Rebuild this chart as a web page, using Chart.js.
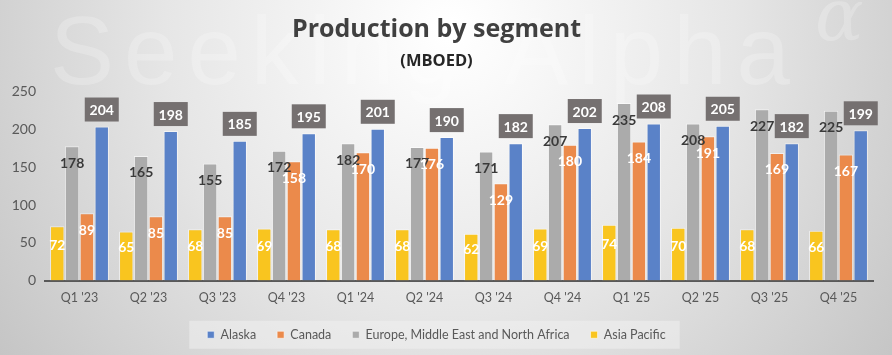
<!DOCTYPE html>
<html>
<head>
<meta charset="utf-8">
<script src="https://cdn.jsdelivr.net/npm/chart.js@4.4.1/dist/chart.umd.min.js"></script>
<style>
  html, body { margin: 0; padding: 0; background: #d0d0d0; }
  #wrap { width: 892px; height: 355px; position: relative; }
</style>
</head>
<body>
<div id="wrap"><canvas id="c" width="892" height="355"></canvas></div>
<script>
const categories = ["Q1 '23","Q2 '23","Q3 '23","Q4 '23","Q1 '24","Q2 '24","Q3 '24","Q4 '24","Q1 '25","Q2 '25","Q3 '25","Q4 '25"];
const asiaPacific = [72, 65, 68, 69, 68, 68, 62, 69, 74, 70, 68, 66];
const emena = [178, 165, 155, 172, 182, 177, 171, 207, 235, 208, 227, 225];
const canada = [89, 85, 85, 158, 170, 176, 129, 180, 184, 191, 169, 167];
const alaska = [204, 198, 185, 195, 201, 190, 182, 202, 208, 205, 182, 199];
const yTicks = [0, 50, 100, 150, 200, 250];

const FONT = "Lato, 'Open Sans', sans-serif";

const bgPlugin = {
  id: 'bg',
  beforeDraw(chart) {
    const ctx = chart.ctx, w = chart.width, h = chart.height;
    ctx.save();
    const g = ctx.createRadialGradient(450, 30, 10, 450, 30, 620);
    g.addColorStop(0, '#ffffff');
    g.addColorStop(0.45, '#e6e6e6');
    g.addColorStop(1, '#bdbdbd');
    ctx.fillStyle = g;
    ctx.fillRect(0, 0, w, h);
    // watermark
    ctx.fillStyle = 'rgba(255,255,255,0.22)';
    ctx.font = "96px 'Liberation Sans', sans-serif";
    ctx.textBaseline = 'alphabetic';
    ctx.textAlign = 'left';
    const wm = 'Seeking Alpha';
    const natural = ctx.measureText(wm).width;
    const target = 740;
    if ('letterSpacing' in ctx) ctx.letterSpacing = ((target - natural) / (wm.length - 1)) + 'px';
    ctx.fillText(wm, 50, 84);
    if ('letterSpacing' in ctx) ctx.letterSpacing = '0px';
    ctx.font = "italic 72px 'DejaVu Serif', serif";
    ctx.fillText('\u03b1', 815, 40);
    // legend box
    const lg = chart.legend;
    if (lg && lg.legendHitBoxes && lg.legendHitBoxes.length) {
      const hb = lg.legendHitBoxes;
      const x0 = Math.min(...hb.map(b => b.left)) - 18;
      const x1 = Math.max(...hb.map(b => b.left + b.width)) + 14;
      const yc = hb[0].top + hb[0].height / 2;
      ctx.fillStyle = 'rgba(240,240,240,0.55)';
      ctx.fillRect(x0, yc - 14, x1 - x0, 28);
    }
    ctx.restore();
  }
};

const labelPlugin = {
  id: 'vals',
  afterDatasetsDraw(chart) {
    const ctx = chart.ctx;
    ctx.save();
    ctx.textAlign = 'center';
    ctx.textBaseline = 'middle';
    chart.data.datasets.forEach((ds, di) => {
      const meta = chart.getDatasetMeta(di);
      if (meta.hidden) return;
      meta.data.forEach((bar, i) => {
        const v = ds.data[i];
        const x = bar.x, top = bar.y, base = bar.base;
        const txt = String(v);
        ctx.font = "bold 14px " + FONT;
        if (ds.kind === 'asia') {
          ctx.fillStyle = '#ffffff';
          ctx.fillText(txt, x, (top + base) / 2 - 8);
        } else if (ds.kind === 'emena') {
          ctx.fillStyle = '#3a3a3a';
          ctx.fillText(txt, x, top + 17);
        } else if (ds.kind === 'canada') {
          ctx.fillStyle = '#ffffff';
          ctx.fillText(txt, x, top + 17);
        } else if (ds.kind === 'alaska') {
          const cy = top - 17;
          ctx.fillStyle = '#757070';
          ctx.fillRect(x - 17, cy - 12, 34, 24);
          ctx.fillStyle = '#ffffff';
          ctx.fillText(txt, x, cy + 1);
        }
      });
    });
    ctx.restore();
  }
};

const border = 'rgba(255,255,255,0.55)';
new Chart(document.getElementById('c'), {
  type: 'bar',
  data: {
    labels: categories,
    datasets: [
      { label: 'Asia Pacific', kind: 'asia', data: asiaPacific, backgroundColor: '#F9C51F', borderColor: border, borderWidth: 1 },
      { label: 'Europe, Middle East and North Africa', kind: 'emena', data: emena, backgroundColor: '#ABABAB', borderColor: border, borderWidth: 1 },
      { label: 'Canada', kind: 'canada', data: canada, backgroundColor: '#EB8A4B', borderColor: border, borderWidth: 1 },
      { label: 'Alaska', kind: 'alaska', data: alaska, backgroundColor: '#5A82C8', borderColor: border, borderWidth: 1 }
    ]
  },
  options: {
    responsive: false,
    animation: false,
    devicePixelRatio: 1,
    categoryPercentage: 0.86,
    barPercentage: 0.97,
    layout: { padding: { left: 0, right: 19, top: 0, bottom: 4 } },
    plugins: {
      title: {
        display: true,
        text: 'Production by segment',
        color: '#404040',
        font: { family: "'Open Sans', sans-serif", size: 25, weight: 'bold', lineHeight: 1.2 },
        padding: { top: 15, bottom: 0 }
      },
      subtitle: {
        display: true,
        text: '(MBOED)',
        color: '#262626',
        font: { family: "'Open Sans', sans-serif", size: 16.5, weight: 'bold', lineHeight: 1.2 },
        padding: { top: 6, bottom: 21 }
      },
      legend: {
        position: 'bottom',
        reverse: true,
        labels: {
          color: '#595959',
          font: { family: FONT, size: 12.5 },
          boxWidth: 7, boxHeight: 7,
          padding: 21
        }
      },
      tooltip: { enabled: false }
    },
    scales: {
      x: {
        grid: { display: false, drawTicks: false },
        border: { display: true, color: '#595959', width: 2 },
        ticks: { color: '#595959', font: { family: FONT, size: 12.5 }, padding: 10, maxRotation: 0 },
        afterFit: s => { s.height = 27; }
      },
      y: {
        min: 0, max: 250,
        afterBuildTicks: s => { s.ticks = yTicks.map(v => ({ value: v })); },
        afterFit: s => { s.width = 45; },
        grid: { display: false, drawTicks: false },
        border: { display: false },
        ticks: { color: '#595959', font: { family: FONT, size: 14 }, padding: 9 }
      }
    }
  },
  plugins: [bgPlugin, labelPlugin]
});
</script>
</body>
</html>
